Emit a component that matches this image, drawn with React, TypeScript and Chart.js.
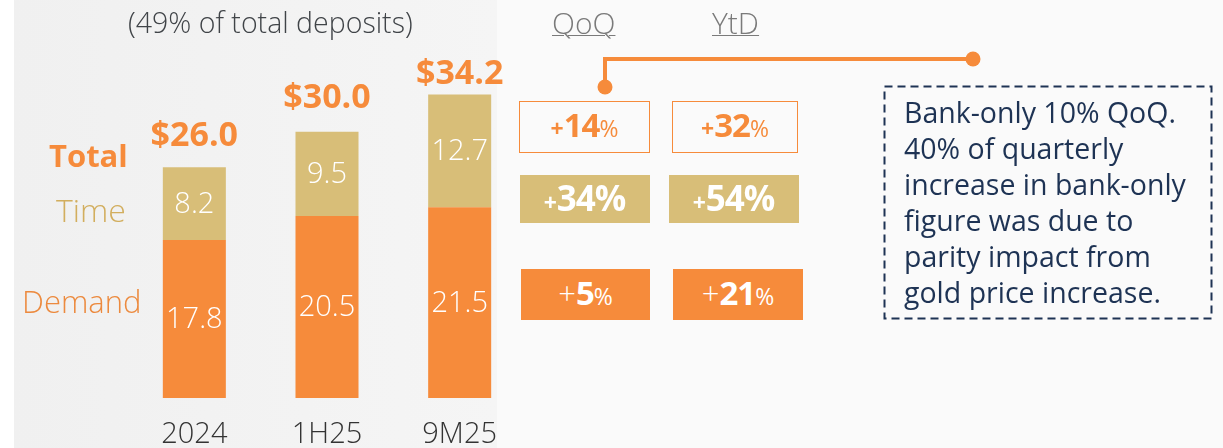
import React, { useEffect, useRef } from "react";
import { Chart, registerables } from "chart.js";

Chart.register(...registerables);

const categories = ["2024", "1H25", "9M25"];
const demandValues = [17.8, 20.5, 21.5];
const timeValues = [8.2, 9.5, 12.7];
const totalLabels = ["$26.0", "$30.0", "$34.2"];
const qoqChanges = ["14", "34", "5"];
const ytdChanges = ["32", "54", "21"];
const noteLines = [
  "Bank-only 10% QoQ.",
  "40% of quarterly",
  "increase in bank-only",
  "figure was due to",
  "parity impact from",
  "gold price increase.",
];

const ORANGE = "#F68B3B";
const GOLD = "#D8BE78";
const NAVY = "#1E3354";
const FONT = "'Open Sans', Lato, sans-serif";
const TOTAL_GAPS = [21, 24, 10];

const labelPlugin = {
  id: "barLabels",
  afterDatasetsDraw(chart: any) {
    const ctx = chart.ctx;
    ctx.save();
    ctx.textAlign = "center";
    ctx.textBaseline = "middle";
    chart.data.datasets.forEach((ds: any, di: number) => {
      const meta = chart.getDatasetMeta(di);
      meta.data.forEach((bar: any, i: number) => {
        const v = ds.data[i];
        ctx.fillStyle = "#ffffff";
        ctx.font = `300 29px ${FONT}`;
        ctx.fillText(v.toFixed(1), bar.x, (bar.y + bar.base) / 2 + 1);
      });
    });
    const top = chart.getDatasetMeta(1);
    const xs = chart.scales.x;
    categories.forEach((c, i) => {
      const bar = top.data[i];
      ctx.fillStyle = ORANGE;
      ctx.font = `bold 34px ${FONT}`;
      ctx.textBaseline = "alphabetic";
      ctx.fillText(totalLabels[i], bar.x, bar.y - TOTAL_GAPS[i]);
      ctx.fillStyle = "#333333";
      ctx.font = `300 29px ${FONT}`;
      ctx.textBaseline = "alphabetic";
      ctx.fillText(c, xs.getPixelForValue(i), 443);
    });
    ctx.restore();
  },
};

function ChangeBox({
  left,
  top,
  width,
  height,
  num,
  variant,
}: {
  left: number;
  top: number;
  width: number;
  height: number;
  num: string;
  variant: "outline" | "gold" | "orange";
}) {
  const bg = variant === "gold" ? GOLD : variant === "orange" ? ORANGE : "transparent";
  const color = variant === "outline" ? ORANGE : "#ffffff";
  const border = variant === "outline" ? `1.5px solid ${ORANGE}` : "none";
  const big = variant === "gold" ? 35 : 33;
  return (
    <div
      style={{
        position: "absolute",
        left,
        top,
        width,
        height,
        boxSizing: "border-box",
        background: bg,
        border,
        display: "flex",
        alignItems: "baseline",
        justifyContent: "center",
        paddingTop: variant === "gold" ? 5 : variant === "outline" ? 6 : 7,
        color,
        fontFamily: FONT,
        lineHeight: 1,
        whiteSpace: "nowrap",
      }}
    >
      <span style={{ fontSize: variant === "orange" ? 31 : 23, fontWeight: variant === "orange" ? 300 : 700 }}>+</span>
      <span style={{ fontSize: big, fontWeight: 700, letterSpacing: -1 }}>{num}</span>
      <span style={{ fontSize: variant === "gold" ? big : 23, fontWeight: variant === "gold" ? 700 : 400 }}>%</span>
    </div>
  );
}

export default function App() {
  const canvasRef = useRef<HTMLCanvasElement | null>(null);

  useEffect(() => {
    document.body.style.margin = "0";
    const canvas = canvasRef.current;
    if (!canvas) return;
    const chart = new Chart(canvas, {
      type: "bar",
      data: {
        labels: categories,
        datasets: [
          { label: "Demand", data: demandValues, backgroundColor: ORANGE, borderWidth: 0 },
          { label: "Time", data: timeValues, backgroundColor: GOLD, borderWidth: 0 },
        ],
      },
      options: {
        animation: false,
        responsive: false,
        maintainAspectRatio: false,
        layout: { padding: { left: 128, right: 697, top: 43, bottom: 50 } },
        datasets: { bar: { barPercentage: 0.475, categoryPercentage: 1 } },
        plugins: { legend: { display: false }, tooltip: { enabled: false }, title: { display: false } },
        scales: {
          x: { stacked: true, display: false },
          y: { stacked: true, display: false, min: 0, max: 40 },
        },
      },
      plugins: [labelPlugin],
    });
    return () => chart.destroy();
  }, []);

  const txt = (extra: React.CSSProperties, content: React.ReactNode) => (
    <div style={{ position: "absolute", fontFamily: FONT, lineHeight: 1, whiteSpace: "nowrap", ...extra }}>{content}</div>
  );

  const underline: React.CSSProperties = {
    fontSize: 30,
    fontWeight: 300,
    color: "#7A7A7A",
    textDecoration: "underline",
    textDecorationThickness: 1,
    textUnderlineOffset: 1,
  };

  return (
    <div style={{ position: "relative", width: 1223, height: 448, background: "#FAFAFA", overflow: "hidden" }}>
      <div
        style={{
          position: "absolute",
          left: 14,
          top: 0,
          width: 483,
          height: 448,
          background: "linear-gradient(to right, #F0F0F0, #F5F5F5)",
        }}
      />
      <div style={{ position: "absolute", left: 0, top: 0, width: 14, height: 448, background: "#FFFFFF" }} />
      <canvas ref={canvasRef} width={1223} height={448} style={{ position: "absolute", left: 0, top: 0 }} />

      {txt({ left: 128, top: 8, fontSize: 28.5, fontWeight: 300, color: "#404448" }, "(49% of total deposits)")}
      {txt({ left: 49, top: 140, fontSize: 31, fontWeight: 700, color: ORANGE }, "Total")}
      {txt({ left: 56, top: 194, fontSize: 32, fontWeight: 300, color: "#D2AE5E" }, "Time")}
      {txt({ left: 22, top: 286, fontSize: 31, fontWeight: 300, color: "#EC8A3E" }, "Demand")}

      {txt({ left: 552, top: 8, ...underline }, "QoQ")}
      {txt({ left: 712, top: 8, ...underline }, "YtD")}

      <svg width={1223} height={448} style={{ position: "absolute", left: 0, top: 0 }}>
        <polyline points="605,87 605,59 973,59" fill="none" stroke={ORANGE} strokeWidth={4} />
        <circle cx={605} cy={87} r={7.5} fill={ORANGE} />
        <circle cx={973} cy={59} r={7.5} fill={ORANGE} />
        <rect x={884.5} y={86.5} width={327} height={232} fill="none" stroke={NAVY} strokeWidth={2} strokeDasharray="8 5" />
      </svg>

      <ChangeBox left={519} top={101} width={131} height={52} num={qoqChanges[0]} variant="outline" />
      <ChangeBox left={672} top={101} width={126} height={52} num={ytdChanges[0]} variant="outline" />
      <ChangeBox left={520} top={175} width={130} height={48} num={qoqChanges[1]} variant="gold" />
      <ChangeBox left={669} top={175} width={130} height={48} num={ytdChanges[1]} variant="gold" />
      <ChangeBox left={521} top={269} width={129} height={51} num={qoqChanges[2]} variant="orange" />
      <ChangeBox left={673} top={269} width={130} height={51} num={ytdChanges[2]} variant="orange" />

      <div style={{ position: "absolute", left: 904, top: 94 }}>
        {noteLines.map((l, i) => (
          <div key={i} style={{ fontFamily: FONT, fontSize: 28.5, fontWeight: 400, color: NAVY, lineHeight: "36px", whiteSpace: "nowrap" }}>
            {l}
          </div>
        ))}
      </div>
    </div>
  );
}
